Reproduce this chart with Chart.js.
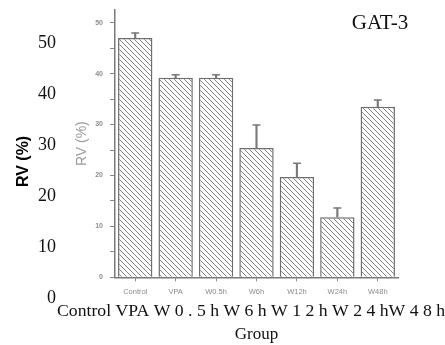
<!DOCTYPE html>
<html>
<head>
<meta charset="utf-8">
<script src="https://cdn.jsdelivr.net/npm/chart.js@4.4.1/dist/chart.umd.min.js"></script>
<style>
html,body{margin:0;padding:0;background:#fff;}
canvas{display:block;}
</style>
</head>
<body>
<canvas id="c" width="445" height="345"></canvas>
<script>
// ---- data ----
const categories = ['Control', 'VPA', 'W0.5h', 'W6h', 'W12h', 'W24h', 'W48h'];
const outerCategoryLabels = ['Control', 'VPA', 'W 0 . 5 h', 'W 6 h', 'W 1 2 h', 'W 2 4 h', 'W 4 8 h'];
const outerCategoryJoiners = [' ', ' ', ' ', ' ', ' ', '', ''];
const rvValues = [47.0, 39.2, 39.2, 25.4, 19.7, 11.8, 33.5];
const rvErrors = [1.0, 0.6, 0.6, 4.5, 2.7, 1.8, 1.3];
const yTickValues = [0, 10, 20, 30, 40, 50];
const seriesName = 'GAT-3';
const yTitle = 'RV (%)';
const xTitle = 'Group';

// ---- hatch pattern ----
function hatch() {
  const s = 5;
  const c = document.createElement('canvas');
  c.width = s; c.height = s;
  const g = c.getContext('2d');
  g.fillStyle = '#ffffff';
  g.fillRect(0, 0, s, s);
  g.strokeStyle = '#808080';
  g.lineWidth = 1;
  g.beginPath();
  g.moveTo(0, 0); g.lineTo(s, s);
  g.moveTo(-1, s - 1); g.lineTo(1, s + 1);
  g.moveTo(s - 1, -1); g.lineTo(s + 1, 1);
  g.stroke();
  return g.createPattern(c, 'repeat');
}
const ctx = document.getElementById('c').getContext('2d');
const pattern = hatch();

const errRanges = rvValues.map((v, i) => [v, v + rvErrors[i]]);
const errTops = rvValues.map((v, i) => v + rvErrors[i]);
const outerCategoryText = outerCategoryLabels.map((t, i) => t + outerCategoryJoiners[i]).join('');

new Chart(ctx, {
  data: {
    labels: categories,
    datasets: [
      {
        type: 'line',
        label: 'caps',
        data: errTops,
        showLine: false,
        pointStyle: 'line',
        pointRadius: 4,
        pointBorderWidth: 1.5,
        borderColor: '#7a7a7a',
        backgroundColor: '#7a7a7a',
        order: 0
      },
      {
        type: 'bar',
        label: 'err',
        data: errRanges,
        grouped: false,
        barThickness: 1.5,
        backgroundColor: '#7a7a7a',
        borderWidth: 0,
        order: 1
      },
      {
        type: 'bar',
        label: seriesName,
        data: rvValues,
        backgroundColor: pattern,
        borderColor: '#6e6e6e',
        borderWidth: 1.5,
        categoryPercentage: 0.85,
        barPercentage: 1.0,
        order: 2
      }
    ]
  },
  options: {
    responsive: false,
    animation: false,
    layout: { padding: { left: 0, right: 0, top: 0, bottom: 0 } },
    plugins: {
      legend: { display: false },
      tooltip: { enabled: false },
      title: {
        display: true,
        text: seriesName + '       ',
        align: 'end',
        color: '#111',
        font: { family: 'Liberation Serif', size: 21, weight: 'normal', lineHeight: 1.2 },
        padding: { top: 11, bottom: -26.2 }
      },
      subtitle: {
        display: true,
        position: 'bottom',
        weight: 1500,
        text: outerCategoryText,
        align: 'end',
        color: '#111',
        font: { family: 'Liberation Serif', size: 17.7, weight: 'normal', lineHeight: 1.0 },
        padding: { top: 0, bottom: 0 }
      }
    },
    scales: {
      x: {
        type: 'category',
        position: 'bottom',
        weight: 0,
        offset: true,
        grid: { display: true, drawOnChartArea: false, drawTicks: true, tickLength: 4, color: '#888', offset: false },
        border: { display: true, color: '#7a7a7a', width: 1.5 },
        ticks: { color: '#8c8c8c', font: { family: 'Liberation Sans', size: 7.5 }, padding: 6, maxRotation: 0, autoSkip: false }
      },
      x2: {
        type: 'category',
        position: 'bottom',
        weight: 3000,
        grid: { display: false, drawTicks: false },
        border: { display: false },
        ticks: { display: false },
        title: {
          display: true,
          text: xTitle,
          color: '#111',
          font: { family: 'Liberation Serif', size: 17, lineHeight: 1.0 },
          padding: { top: 6, bottom: 2 }
        }
      },
      y: {
        type: 'linear',
        position: 'left',
        weight: 0,
        min: 0,
        max: 52.5,
        afterBuildTicks: (s) => { s.ticks = s.ticks.filter(t => t.value % 5 === 0); },
        afterFit: (s) => { s.width = 55; },
        grid: { display: true, drawOnChartArea: false, drawTicks: true, tickLength: 5, color: '#888' },
        border: { display: true, color: '#7a7a7a', width: 1.5 },
        ticks: {
          stepSize: 5,
          color: '#8c8c8c',
          font: { family: 'Liberation Sans', size: 7, weight: 'bold', lineHeight: 0.5 },
          padding: 7,
          callback: (v) => (yTickValues.includes(v) ? String(v) : '')
        },
        title: {
          display: true,
          text: yTitle,
          color: '#9a9a9a',
          font: { family: 'Liberation Sans', size: 14, lineHeight: 1.2 },
          padding: { top: 14, bottom: 0 }
        }
      },
      yOut: {
        type: 'linear',
        position: 'left',
        weight: 1,
        min: 0,
        max: 52.5,
        afterBuildTicks: (s) => { s.ticks = yTickValues.map(v => ({ value: v })); },
        afterFit: (s) => { s.width = 60; },
        grid: { display: false, drawTicks: false },
        border: { display: false },
        ticks: {
          color: '#111',
          font: { family: 'Liberation Serif', size: 18, lineHeight: 0.5 },
          padding: 4,
          labelOffset: 21
        },
        title: {
          display: true,
          text: yTitle + '        ',
          color: '#000',
          font: { family: 'Liberation Sans', size: 16, weight: 'bold', lineHeight: 1.2 },
          padding: { top: 14, bottom: 0 }
        }
      },
      yR: {
        type: 'linear',
        position: 'right',
        display: true,
        grid: { display: false, drawTicks: false },
        border: { display: false },
        ticks: { display: false },
        afterFit: (s) => { s.width = 47; }
      }
    }
  }
});
</script>
</body>
</html>
